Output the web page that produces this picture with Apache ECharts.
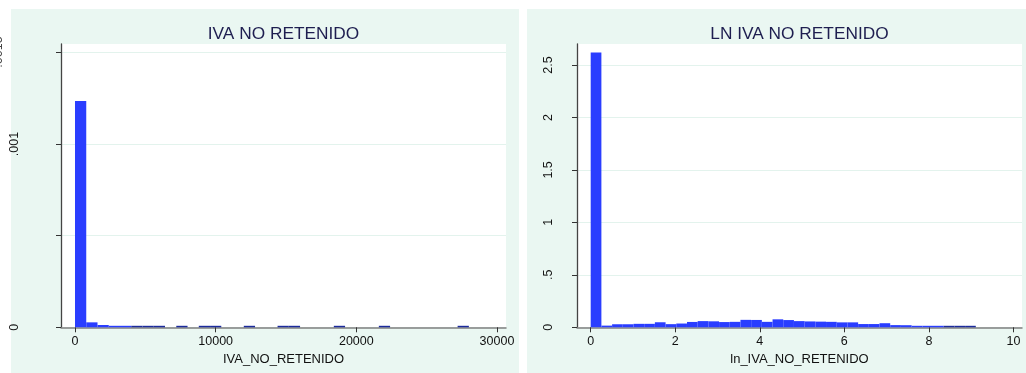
<!DOCTYPE html>
<html>
<head>
<meta charset="utf-8">
<title>IVA NO RETENIDO</title>
<script src="https://cdn.jsdelivr.net/npm/echarts@6/dist/echarts.min.js"></script>
<style>
  html, body { margin: 0; padding: 0; background: #ffffff; }
  #chart { width: 1026px; height: 373px; }
</style>
</head>
<body>
<div id="chart"></div>
<script>
// Histogram of IVA_NO_RETENIDO (density, bins of 800)
const ivaBinWidth = 800;
const ivaDensity = [
  0.001234, 0.000027, 0.0000125, 0.000007, 0.000004,
  0.000002, 0.000002, 0.000002, 0, 0.000001,
  0, 0.000001, 0.000001, 0, 0,
  0.000001, 0, 0, 0.000001, 0.000001,
  0, 0, 0, 0.000001, 0,
  0, 0, 0.000001, 0, 0,
  0, 0, 0, 0, 0.000001
];
const ivaXTicks = [0, 10000, 20000, 30000];
const ivaYTicks = [0, 0.0005, 0.001, 0.0015];
const ivaYLabels = [0, 0.001];

// Histogram of ln_IVA_NO_RETENIDO (density, 36 bins over 0..9.11)
const lnBinWidth = 9.11 / 36;
const lnDensity = [
  2.62, 0.016, 0.029, 0.029, 0.033, 0.033, 0.048, 0.030, 0.036,
  0.051, 0.059, 0.057, 0.050, 0.052, 0.071, 0.070, 0.052, 0.076,
  0.069, 0.059, 0.056, 0.054, 0.052, 0.047, 0.047, 0.031, 0.031,
  0.039, 0.021, 0.020, 0.010, 0.010, 0.008, 0.004, 0.004, 0.004
];
const lnXTicks = [0, 2, 4, 6, 8, 10];
const lnYTicks = [0, 0.5, 1, 1.5, 2, 2.5];

const FONT = 'Liberation Sans, Arial, sans-serif';
const BAR = '#2a3dff';
const BAR_THIN = '#1c2b9c';
const PANEL_BG = '#eaf7f2';
const GRIDLINE = '#e3f3ed';

function bins(width, dens) {
  return dens.map((d, i) => [i * width, (i + 1) * width, d]);
}

// One histogram bar per bin; near-empty bins show as a thin dark strip on the axis
function renderBar(params, api) {
  const d = api.value(2);
  if (!d) return null;
  const p0 = api.coord([api.value(0), 0]);
  const p1 = api.coord([api.value(1), d]);
  const h = p0[1] - p1[1];
  const thin = h < 0.6;
  const drawH = Math.max(h, 1.5);
  return {
    type: 'rect',
    shape: { x: p0[0], y: p0[1] - drawH, width: p1[0] - p0[0], height: drawH },
    style: { fill: thin ? BAR_THIN : BAR }
  };
}

const stataNum = v => String(v).replace(/^0\./, '.');

function xAxisOf(gridIndex, min, max, ticks, name) {
  return {
    type: 'value', gridIndex, min, max,
    name, nameLocation: 'middle', nameGap: 21,
    nameTextStyle: { fontFamily: FONT, fontSize: 13, color: '#111' },
    axisLine: { onZero: false, lineStyle: { color: '#808080', width: 1.5 } },
    axisTick: { show: true, length: 5, customValues: ticks, lineStyle: { color: '#333' } },
    axisLabel: { customValues: ticks, margin: 8, fontFamily: FONT, fontSize: 12.5, color: '#111',
                 formatter: v => stataNum(v) },
    splitLine: { show: false }
  };
}

function yAxisOf(gridIndex, max, interval, ticks, labels, margin) {
  return {
    type: 'value', gridIndex, min: 0, max, interval,
    axisLine: { show: true, onZero: false, lineStyle: { color: '#444', width: 1.3 } },
    axisTick: { show: true, length: 5, customValues: ticks, lineStyle: { color: '#333' } },
    axisLabel: { customValues: labels, rotate: 90, margin, fontFamily: FONT, fontSize: 12.5, color: '#111',
                 formatter: v => stataNum(v) },
    splitLine: { show: true, lineStyle: { color: GRIDLINE, width: 1 } }
  };
}

const chart = echarts.init(document.getElementById('chart'), null, { renderer: 'canvas' });

chart.setOption({
  animation: false,
  backgroundColor: '#ffffff',
  graphic: [
    { type: 'rect', z: -100, shape: { x: 11, y: 9, width: 508, height: 364 }, style: { fill: PANEL_BG } },
    { type: 'rect', z: -100, shape: { x: 527, y: 9, width: 499, height: 364 }, style: { fill: PANEL_BG } },
    { type: 'text', z: 10, x: -1, y: 52, rotation: Math.PI / 2,
      style: { text: '.0015', fontFamily: FONT, fontSize: 12.5, fill: '#444', align: 'center', verticalAlign: 'middle' } }
  ],
  title: [
    { text: 'IVA NO RETENIDO', left: 283.5, top: 25.5, padding: 0, textAlign: 'center',
      textStyle: { fontFamily: FONT, fontSize: 17.3, fontWeight: 'normal', color: '#1e1e50' } },
    { text: 'LN IVA NO RETENIDO', left: 799.5, top: 25.5, padding: 0, textAlign: 'center',
      textStyle: { fontFamily: FONT, fontSize: 17.3, fontWeight: 'normal', color: '#1e1e50' } }
  ],
  grid: [
    { left: 61, top: 44, width: 445, height: 283.3, show: true, backgroundColor: '#ffffff', borderWidth: 0 },
    { left: 577, top: 44, width: 445, height: 283.3, show: true, backgroundColor: '#ffffff', borderWidth: 0 }
  ],
  xAxis: [
    xAxisOf(0, -995, 30640, ivaXTicks, 'IVA_NO_RETENIDO'),
    xAxisOf(1, -0.324, 10.203, lnXTicks, 'ln_IVA_NO_RETENIDO')
  ],
  yAxis: [
    yAxisOf(0, 0.0015456, 0.0005, ivaYTicks, ivaYLabels, 40),
    yAxisOf(1, 2.700, 0.5, lnYTicks, lnYTicks, 22)
  ],
  series: [
    { type: 'custom', xAxisIndex: 0, yAxisIndex: 0, renderItem: renderBar,
      encode: { x: [0, 1], y: 2 }, data: bins(ivaBinWidth, ivaDensity) },
    { type: 'custom', xAxisIndex: 1, yAxisIndex: 1, renderItem: renderBar,
      encode: { x: [0, 1], y: 2 }, data: bins(lnBinWidth, lnDensity) }
  ]
});
</script>
</body>
</html>
